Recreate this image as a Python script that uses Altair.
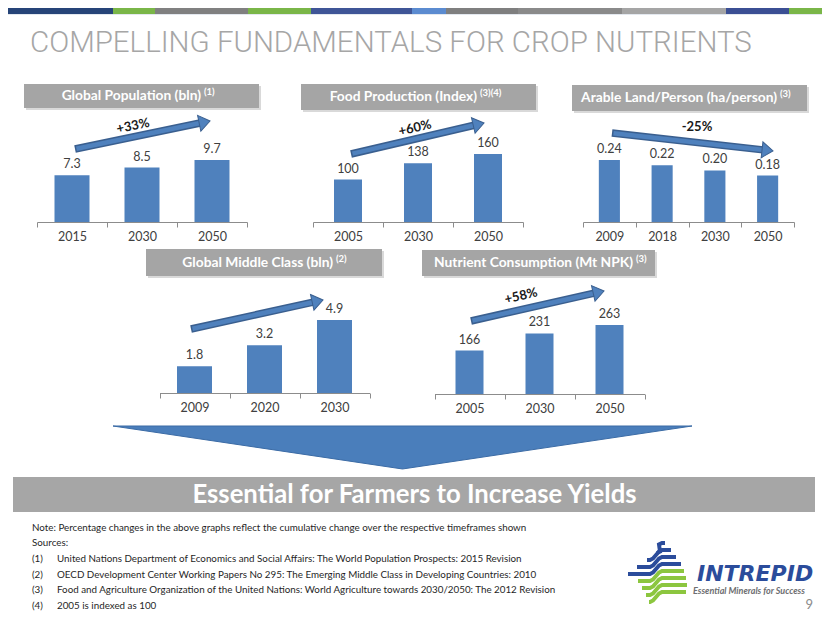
import math
import altair as alt
import pandas as pd

# ------------------------------------------------------------------ data
pop_years = ["2015", "2030", "2050"]
pop_values = [7.3, 8.5, 9.7]
food_years = ["2005", "2030", "2050"]
food_values = [100, 138, 160]
land_years = ["2009", "2018", "2030", "2050"]
land_values = [0.24, 0.22, 0.20, 0.18]
middle_years = ["2009", "2020", "2030"]
middle_values = [1.8, 3.2, 4.9]
npk_years = ["2005", "2030", "2050"]
npk_values = [166, 231, 263]

panel_titles = ["Global Population (bln)", "Food Production (Index)",
                "Arable Land/Person (ha/person)", "Global Middle Class (bln)",
                "Nutrient Consumption (Mt NPK)"]
panel_refs = ["(1)", "(3)(4)", "(3)", "(2)", "(3)"]
change_labels = ["+33%", "+60%", "-25%", "", "+58%"]

slide_title = "COMPELLING FUNDAMENTALS FOR CROP NUTRIENTS"
banner_text = "Essential for Farmers to Increase Yields"
note_text = "Note: Percentage changes in the above graphs reflect the cumulative change over the respective timeframes shown"
sources_text = "Sources:"
source_nums = ["(1)", "(2)", "(3)", "(4)"]
source_texts = [
    "United Nations Department of Economics and Social Affairs:  The World Population Prospects: 2015 Revision",
    "OECD Development Center Working Papers No 295: The Emerging Middle Class in Developing Countries: 2010",
    "Food and Agriculture Organization of the United Nations: World Agriculture towards 2030/2050: The 2012 Revision",
    "2005 is indexed as 100",
]
logo_name = "INTREPID"
logo_tag = "Essential Minerals for Success"
page_no = "9"

# ------------------------------------------------------------------ layout helpers
OFF = 8
W, H = 814, 607
FONT = "Lato"
BAR = "#4f81bd"
DARKTXT = "#404040"
ONE = pd.DataFrame({"k": [0]})


def px(v):
    return v - OFF


def text(t, x, y, size, color, weight="normal", align="left", baseline="middle",
         font=FONT, angle=0, style="normal"):
    return alt.Chart(ONE).mark_text(
        text=t, align=align, baseline=baseline, font=font, fontSize=size,
        fontWeight=weight, color=color, angle=angle, fontStyle=style,
    ).encode(x=alt.value(px(x)), y=alt.value(px(y)))


def rect(x0, x1, y0, y1, color):
    return alt.Chart(ONE).mark_rect(color=color).encode(
        x=alt.value(px(x0)), x2=alt.value(px(x1)),
        y=alt.value(px(y0)), y2=alt.value(px(y1)))


def seg(x0, y0, x1, y1, color, width):
    return alt.Chart(ONE).mark_rule(color=color, strokeWidth=width, strokeCap="butt").encode(
        x=alt.value(px(x0)), y=alt.value(px(y0)),
        x2=alt.value(px(x1)), y2=alt.value(px(y1)))


def arrow(x0, y0, x1, y1):
    L = math.hypot(x1 - x0, y1 - y0)
    ux, uy = (x1 - x0) / L, (y1 - y0) / L
    hl = 11
    bx, by = x1 - ux * hl, y1 - uy * hl
    ang = math.degrees(math.atan2(y1 - y0, x1 - x0)) % 360
    outer = seg(x0, y0, bx + ux, by + uy, "#3a5f8f", 7.5)
    inner = seg(x0 + ux * 1.5, y0 + uy * 1.5, bx + ux * 2, by + uy * 2, BAR, 4.5)
    cx, cy = bx + ux * hl / 2, by + uy * hl / 2
    head = alt.Chart(ONE).mark_point(
        shape="M -0.69 -1 L 0.69 0 L -0.69 1 Z", size=256, filled=True,
        fill=BAR, stroke="#3a5f8f", strokeWidth=1, opacity=1, angle=ang,
    ).encode(x=alt.value(px(cx)), y=alt.value(px(cy)))
    return [outer, inner, head]


def mini(years, values, fmt, x0, x1, base, ymax, top, band):
    df = pd.DataFrame({"year": years, "value": values})
    x = alt.X("year:N", sort=years,
              scale=alt.Scale(domain=years, range=[px(x0), px(x1)],
                              paddingInner=0, paddingOuter=0),
              axis=alt.Axis(orient="bottom", offset=px(base) - H, title=None,
                            labelAngle=0, tickBand="extent", grid=False,
                            domainColor="#8c8c8c", tickColor="#8c8c8c",
                            tickSize=5, domainWidth=1, tickWidth=1,
                            labelFont=FONT, labelFontSize=12.5,
                            labelColor=DARKTXT, labelPadding=3))
    y = alt.Y("value:Q", scale=alt.Scale(domain=[0, ymax], range=[px(base), px(top)],
                                         nice=False, zero=True), axis=None)
    bars = alt.Chart(df).mark_bar(color=BAR, width={"band": band}).encode(x=x, y=y)
    labels = alt.Chart(df).mark_text(dy=-11, font=FONT, fontSize=12.5, color=DARKTXT,
                                     baseline="middle").encode(
        x=x, y=y, text=alt.Text("value:Q", format=fmt))
    return alt.layer(bars, labels)


layers = []

# top colour strip (the page margin hides its upper part, so it starts at the visible edge)
strip = [(0, 113, "#264478"), (113, 155, "#7ab648"), (155, 248, "#808080"),
         (248, 311, "#7ab648"), (311, 412, "#3f5597"), (412, 446, "#5b8bd0"),
         (446, 518, "#7f7f7f"), (518, 622, "#8a8a8a"), (622, 726, "#a5a5a5"),
         (726, 789, "#3b4f94"), (789, 830, "#7ab648")]
for a, b, c in strip:
    layers.append(rect(a, b, 8, 14, c))
layers.append(rect(0, 830, 14, 15, "#e3e8ef"))

# slide title
layers.append(text(slide_title, 30, 52, 29.5, "#a6a6a6", weight=300,
                   baseline="alphabetic", font="Roboto"))

# panels
panels = [
    dict(years=pop_years, values=pop_values, fmt=".1f", x0=37, x1=247, base=222,
         ymax=12, top=222 - 76.8, band=0.5, box=(24, 259, 84, 108), tend=201,
         arr=(75, 149, 210, 121), pct=(133, 126, 348)),
    dict(years=food_years, values=food_values, fmt="d", x0=313, x1=523, base=222,
         ymax=200, top=222 - 85, band=0.4, box=(301, 536, 84, 110), tend=477,
         arr=(351, 154, 484, 123), pct=(415, 128, 347)),
    dict(years=land_years, values=land_values, fmt=".2f", x0=583, x1=794, base=222,
         ymax=0.3, top=222 - 77.4, band=0.4, box=(572, 807, 85, 111), tend=777,
         arr=(612, 133, 773, 151), pct=(697, 127, 0)),
    dict(years=middle_years, values=middle_values, fmt=".1f", x0=159.5, x1=369.5,
         base=393, ymax=6, top=393 - 89.4, band=0.5, box=(146, 382, 249, 276),
         tend=333, arr=(191, 329, 323, 300), pct=None),
    dict(years=npk_years, values=npk_values, fmt="d", x0=434.5, x1=644.5, base=394,
         ymax=300, top=394 - 78.6, band=0.4, box=(422, 655, 250, 276), tend=633,
         arr=(471, 321, 604, 291), pct=(521, 296, 347)),
]

for i, p in enumerate(panels):
    bx0, bx1, by0, by1 = p["box"]
    cy = (by0 + by1) / 2
    layers.append(rect(bx0 + 2, bx1 + 2, by0 + 2, by1 + 2, "#d9d9d9"))
    layers.append(rect(bx0, bx1, by0, by1, "#a5a5a5"))
    layers.append(text(panel_titles[i], p["tend"], cy, 13.8, "white",
                       weight="bold", align="right"))
    layers.append(text(panel_refs[i], p["tend"] + 3, cy - 4, 9.5, "white",
                       weight="bold", align="left"))
    layers.append(mini(p["years"], p["values"], p["fmt"], p["x0"], p["x1"],
                       p["base"], p["ymax"], p["top"], p["band"]))
    layers.extend(arrow(*p["arr"]))
    if p["pct"] is not None:
        lx, ly, la = p["pct"]
        layers.append(text(change_labels[i], lx, ly, 13, "#1a1a1a", weight="bold",
                           align="center", angle=la))

# big down arrow
layers.append(alt.Chart(ONE).mark_point(
    shape="M -1 0 L 1 0 L 0 0.1485 Z", size=579 ** 2, filled=True,
    fill="#4a7ebb", stroke="#3b6ba5", strokeWidth=1, opacity=1,
).encode(x=alt.value(px(402.5)), y=alt.value(px(426))))

# banner
layers.append(rect(13, 815, 477, 512, "#a6a6a6"))
layers.append(text(banner_text, 414.5, 495, 25.7, "white", weight="bold", align="center"))

# footnotes
FN = 9.8
FC = "#1f1f1f"
layers.append(text(note_text, 32, 528, FN, FC))
layers.append(text(sources_text, 32, 543, FN, FC))
for j in range(4):
    yy = 559 + j * 15.6
    layers.append(text(source_nums[j], 32, yy, FN, FC))
    layers.append(text(source_texts[j], 57, yy, FN, FC))

# logo icon (wavy stripes)
starts = [(657, 553), (647, 560), (637, 567), (628, 574),
          (638, 581), (642, 588), (646, 595), (649, 602)]
ends_x = [665, 671, 676, 681, 684, 686, 687, 686]
rows = []
for k in range(8):
    xs, yl = starts[k]
    yr = yl - 10
    xe = ends_x[k]
    col = "#2b4c9b" if k < 4 else "#8cc63f"
    k1 = max(xs, 650)
    k2 = 662
    pts = [(xs, yl), (k1, yl), (k1 + 3, yl - 1.5), (k2 - 3, yr + 1.5), (k2, yr), (xe, yr)]
    for o, (xx, yy) in enumerate(pts):
        rows.append({"s": k, "o": o, "x": px(xx), "y": px(yy), "c": col})
logo_df = pd.DataFrame(rows)
layers.append(alt.Chart(logo_df).mark_line(strokeWidth=4, strokeCap="butt").encode(
    x=alt.X("x:Q", scale=None, axis=None),
    y=alt.Y("y:Q", scale=None, axis=None),
    detail="s:N", order="o:Q",
    color=alt.Color("c:N", scale=None)))

layers.append(text(logo_name, 697, 574, 22, "#2b4c9b", weight="bold",
                   style="italic", font="DejaVu Sans"))
layers.append(text(logo_tag, 693, 591, 9, "#6d6e71", weight="bold", style="italic"))
layers.append(text(page_no, 813, 605, 13, "#8c8c8c", align="right"))

chart = (
    alt.layer(*layers)
    .resolve_scale(x="independent", y="independent")
    .properties(width=W, height=H, padding=0,
                autosize=alt.AutoSizeParams(type="none"))
    .configure_view(strokeWidth=0)
)

chart.save("out.html", embed_options={"renderer": "svg", "actions": False})
